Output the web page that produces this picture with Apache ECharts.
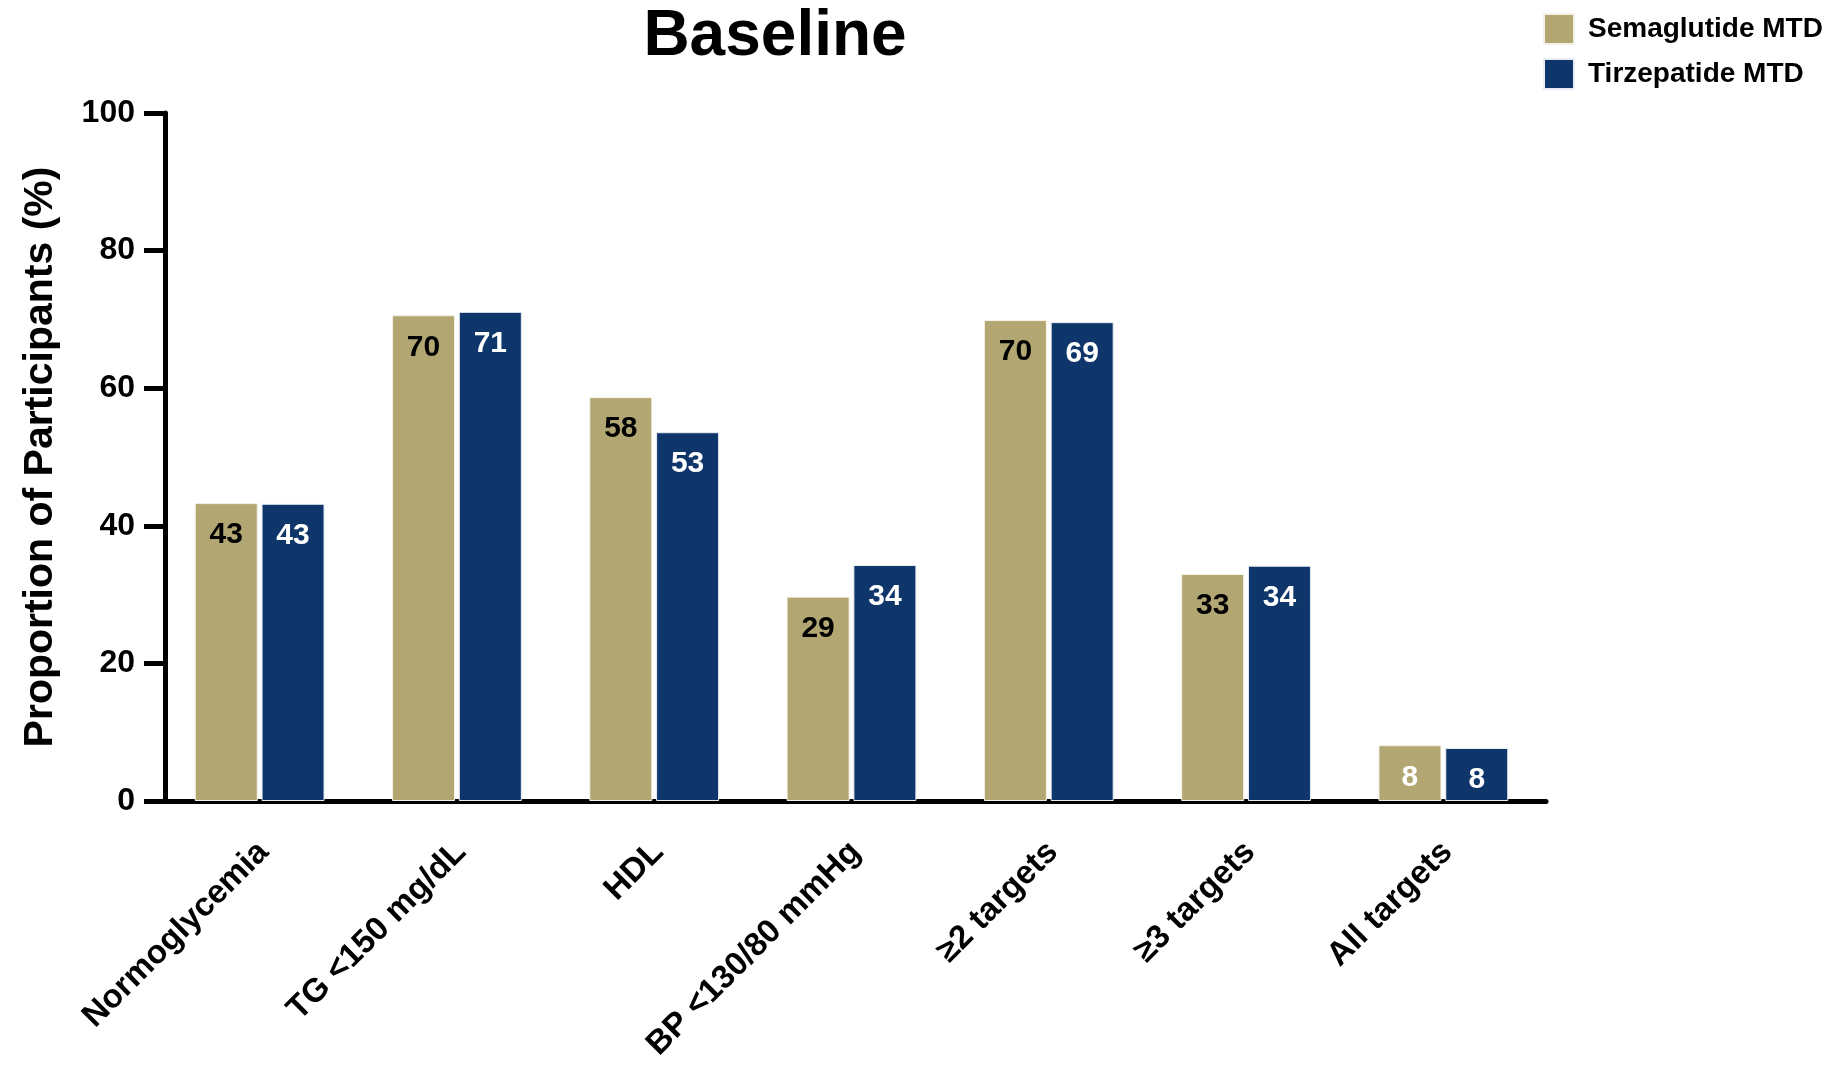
<!DOCTYPE html>
<html>
<head>
<meta charset="utf-8">
<script src="https://cdn.jsdelivr.net/npm/echarts@6/dist/echarts.min.js"></script>
<style>
html,body{margin:0;padding:0;background:#fff;}
#chart{width:1845px;height:1065px;}
</style>
</head>
<body>
<div id="chart"></div>
<script>
const categories = ['Normoglycemia', 'TG <150 mg/dL', 'HDL', 'BP <130/80 mmHg', '≥2 targets', '≥3 targets', 'All targets'];
const semaValues = [43.3, 70.6, 58.7, 29.7, 69.9, 33.0, 8.1];
const tirzValues = [43.2, 71.1, 53.6, 34.3, 69.6, 34.2, 7.7];
const semaLabels = [43, 70, 58, 29, 70, 33, 8];
const tirzLabels = [43, 71, 53, 34, 69, 34, 8];
const yTicks = [0, 20, 40, 60, 80, 100];
const seriesNames = ['Semaglutide MTD', 'Tirzepatide MTD'];

const FONT = '"Liberation Sans", Arial, Helvetica, sans-serif';
const GOLD = '#B2A773';
const BLUE = '#0E366B';

const chart = echarts.init(document.getElementById('chart'), null, {renderer: 'canvas'});

function makeData(values, labels, colorFn) {
  return values.map((v, i) => ({
    value: v,
    label: {color: colorFn(i), formatter: String(labels[i])}
  }));
}

const labelBase = {
  show: true,
  position: 'insideTop',
  distance: 17,
  fontFamily: FONT,
  fontWeight: 'bold',
  fontSize: 30
};

chart.setOption({
  animation: false,
  backgroundColor: '#fff',
  title: {
    text: 'Baseline',
    left: 770,
    textAlign: 'center',
    top: 0,
    textStyle: {fontFamily: FONT, fontWeight: 'bold', fontSize: 64, color: '#000'}
  },
  legend: {
    orient: 'vertical',
    left: 1538,
    top: 8,
    itemWidth: 30,
    itemHeight: 30,
    itemGap: 13,
    icon: 'rect',
    data: seriesNames,
    textStyle: {fontFamily: FONT, fontWeight: 'bold', fontSize: 28, color: '#000', padding: [0, 0, 0, 9]}
  },
  grid: [
    {left: 165, right: 299, top: 113, bottom: 264, containLabel: false},
    {left: 161, right: 303, top: 113, bottom: 264, containLabel: false}
  ],
  xAxis: [
    {
      type: 'category',
      gridIndex: 0,
      data: categories,
      boundaryGap: true,
      axisLine: {lineStyle: {color: '#000', width: 5}},
      axisTick: {alignWithLabel: true, length: 22, lineStyle: {color: '#000', width: 5}},
      axisLabel: {
        rotate: 45,
        margin: 46,
        interval: 0,
        fontFamily: FONT,
        fontWeight: 'bold',
        fontSize: 33,
        color: '#000'
      }
    },
    {
      type: 'category',
      gridIndex: 1,
      data: categories,
      boundaryGap: true,
      show: false
    }
  ],
  yAxis: [
    {
      type: 'value',
      gridIndex: 0,
      min: 0,
      max: 100,
      interval: 20,
      name: 'Proportion of Participants (%)',
      nameLocation: 'middle',
      nameGap: 104,
      nameTextStyle: {fontFamily: FONT, fontWeight: 'bold', fontSize: 41, color: '#000'},
      axisLine: {show: true, lineStyle: {color: '#000', width: 5}},
      axisTick: {show: true, inside: false, length: 21, lineStyle: {color: '#000', width: 5}},
      splitLine: {show: false},
      axisLabel: {
        margin: 30,
        fontFamily: FONT,
        fontWeight: 'bold',
        fontSize: 32,
        color: '#000',
        formatter: v => (yTicks.indexOf(v) >= 0 ? String(v) : '')
      }
    },
    {
      type: 'value',
      gridIndex: 1,
      min: 0,
      max: 100,
      interval: 20,
      show: false
    }
  ],
  series: [
    {
      name: seriesNames[0],
      type: 'bar',
      xAxisIndex: 1,
      yAxisIndex: 1,
      barWidth: 63,
      barGap: '6%',
      itemStyle: {color: GOLD, borderColor: '#f4f1e6', borderWidth: 1},
      label: labelBase,
      data: makeData(semaValues, semaLabels, i => (i === 6 ? '#fff' : '#000'))
    },
    {
      name: seriesNames[1],
      type: 'bar',
      xAxisIndex: 1,
      yAxisIndex: 1,
      barWidth: 63,
      barGap: '6%',
      itemStyle: {color: BLUE, borderColor: '#e8ecf3', borderWidth: 1},
      label: labelBase,
      data: makeData(tirzValues, tirzLabels, () => '#fff')
    }
  ]
});
</script>
</body>
</html>
